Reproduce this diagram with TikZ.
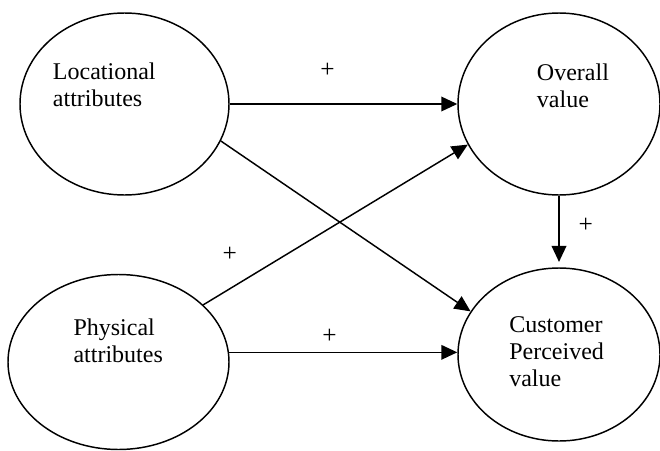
\documentclass[tikz,border=0pt]{standalone}
\usepackage{fontspec}
\setmainfont{Liberation Serif}
\usetikzlibrary{shapes.geometric,arrows.meta}

\begin{document}
\begin{tikzpicture}[x=0.75pt,y=0.75pt,yscale=-1,
  construct/.style={draw,ellipse,line width=1.1pt,inner sep=0pt},
  caption/.style={anchor=north west,inner sep=0pt,align=left,font=\fontsize{18}{20.25}\selectfont},
  effect/.style={-{Triangle[length=12pt,width=11pt]},line width=1.1pt},
  sign/.style={inner sep=0pt,font=\fontsize{19}{20}\selectfont}]
\useasboundingbox (0,0) rectangle (660,450);

%Shape: Ellipse [loc]
\node[construct,minimum width=156.75pt,minimum height=136.5pt] (loc) at (124.5,104) {};
%Shape: Ellipse [ov]
\node[construct,minimum width=151.5pt,minimum height=136.5pt] (ov) at (559,104) {};
%Shape: Ellipse [phys]
\node[construct,minimum width=165.75pt,minimum height=131.25pt] (phys) at (118.5,362) {};
%Shape: Ellipse [cust]
\node[construct,minimum width=151.5pt,minimum height=129.75pt] (cust) at (559,354.5) {};

% Text Node
\node[caption] (loctext) at (52.7,62.7) {Locational\\attributes};
% Text Node
\node[caption] (ovtext) at (536.7,63.5) {Overall\\value};
% Text Node
\node[caption] (phystext) at (73.3,318.5) {Physical\\attributes};
% Text Node
\node[caption] (custtext) at (509,316.5) {Customer\\Perceived\\value};

%Straight Lines
\draw[effect] (loc) -- node[sign,pos=.43,yshift=25pt] (s1) {+} (ov);
%Straight Lines
\draw[effect] (phys.34) -- node[sign,pos=.1,yshift=26pt] (s2) {+} (ov.204);
%Straight Lines
\draw[effect] (loc.-21) -- (cust.154);
%Straight Lines
\draw[effect] (phys.5) -- node[sign,pos=.44,yshift=12pt] (s3) {+} (phys.5 -| cust.west);
%Straight Lines
\draw[effect,shorten >=4pt] (ov.south) -- node[sign,pos=.42,xshift=20pt] (s4) {+} (cust.north);

\end{tikzpicture}
\end{document}
